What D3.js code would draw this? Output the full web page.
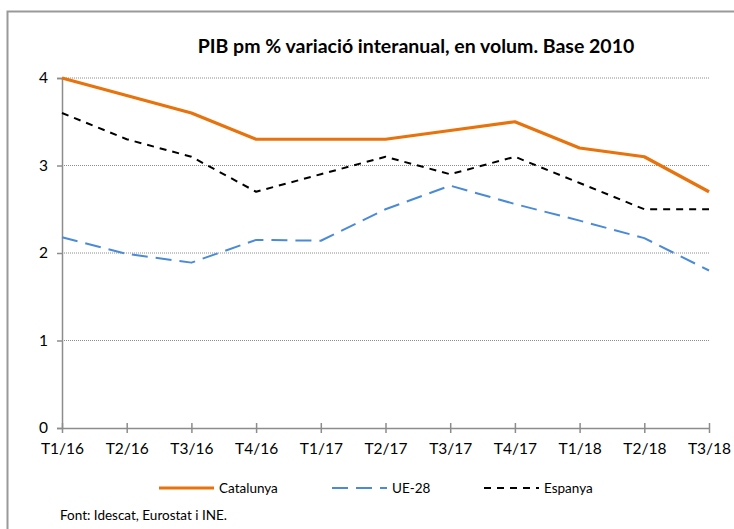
<!DOCTYPE html>
<html><head><meta charset="utf-8">
<script src="https://cdn.jsdelivr.net/npm/d3@7"></script>
<style>body{margin:0;background:#fff}svg{display:block}</style>
</head><body>
<script>
const categories = ["T1/16","T2/16","T3/16","T4/16","T1/17","T2/17","T3/17","T4/17","T1/18","T2/18","T3/18"];
const catalunya = [4.0,3.8,3.6,3.3,3.3,3.3,3.4,3.5,3.2,3.1,2.7];
const ue28 = [2.18,1.99,1.89,2.15,2.14,2.5,2.77,2.56,2.37,2.17,1.8];
const espanya = [3.6,3.3,3.1,2.7,2.9,3.1,2.9,3.1,2.8,2.5,2.5];
const yTicks = [0,1,2,3,4];
const seriesNames = ["Catalunya","UE-28","Espanya"];
const title = "PIB pm % variació interanual, en volum. Base 2010";
const source = "Font: Idescat, Eurostat i INE.";

const W=734,H=529;
const font = "Lato, 'Open Sans', sans-serif";
const svg = d3.select("body").append("svg").attr("width",W).attr("height",H);
svg.append("path").attr("d","M7.5,529 L7.5,11.5 L734,11.5").attr("fill","none").attr("stroke","#9a9a9a").attr("stroke-width",2);

const x = d3.scalePoint().domain(categories).range([62,709]);
const y = d3.scaleLinear().domain([0,4]).range([428,78]);

svg.append("text").attr("x",416).attr("y",53).attr("text-anchor","middle")
  .attr("font-family",font).attr("font-weight","bold").attr("font-size",19.5).attr("fill","#000").text(title);

// gridlines
svg.append("g").selectAll("line").data(yTicks.filter(d=>d>0)).join("line")
  .attr("x1",62).attr("x2",709).attr("y1",d=>y(d)).attr("y2",d=>y(d))
  .attr("stroke","#8c8c8c").attr("stroke-width",1).attr("stroke-dasharray","1,1");

// y axis
const ya = svg.append("g").attr("transform","translate(62,0)").call(d3.axisLeft(y).tickValues(yTicks).tickSize(5).tickFormat(d3.format("d")));
ya.select(".domain").attr("stroke","#8c8c8c").attr("stroke-width",1.5);
ya.selectAll(".tick line").attr("stroke","#8c8c8c").attr("stroke-width",1.5);
ya.selectAll("text").attr("font-family",font).attr("font-size",15.5).attr("fill","#000").attr("x",-14);

// x axis
const xa = svg.append("g").attr("transform","translate(0,428)").call(d3.axisBottom(x).tickSize(5).tickSizeOuter(0));
xa.select(".domain").attr("stroke","#8c8c8c").attr("stroke-width",1.5);
xa.selectAll(".tick line").attr("stroke","#8c8c8c").attr("stroke-width",1.5).attr("y1",-5).attr("y2",5);
xa.selectAll("text").attr("font-family",font).attr("font-size",15.5).attr("fill","#000").attr("y",15);

const line = d3.line().x((d,i)=>x(categories[i])).y(d=>y(d));
const styles = [
  {data:catalunya,color:"#e8720c",w:3.2,dash:null},
  {data:ue28,color:"#4a8ad8",w:2,dash:"16,8"},
  {data:espanya,color:"#000",w:2,dash:"7,6"}
];
styles.forEach(s=>{
  svg.append("path").datum(s.data).attr("d",line).attr("fill","none")
    .attr("stroke",s.color).attr("stroke-width",s.w).attr("stroke-dasharray",s.dash).attr("stroke-linejoin","round");
});

// legend
const legX = [159,332,484];
seriesNames.forEach((n,i)=>{
  const s=styles[i];
  svg.append("line").attr("x1",legX[i]).attr("x2",legX[i]+55).attr("y1",488).attr("y2",488)
    .attr("stroke",s.color).attr("stroke-width",s.w).attr("stroke-dasharray",s.dash);
  svg.append("text").attr("x",legX[i]+60).attr("y",493).attr("font-family",font).attr("font-size",13.5).attr("fill","#000").text(n);
});

svg.append("text").attr("x",60).attr("y",520).attr("font-family",font).attr("font-size",13.5).attr("fill","#000").text(source);
</script>
</body></html>
